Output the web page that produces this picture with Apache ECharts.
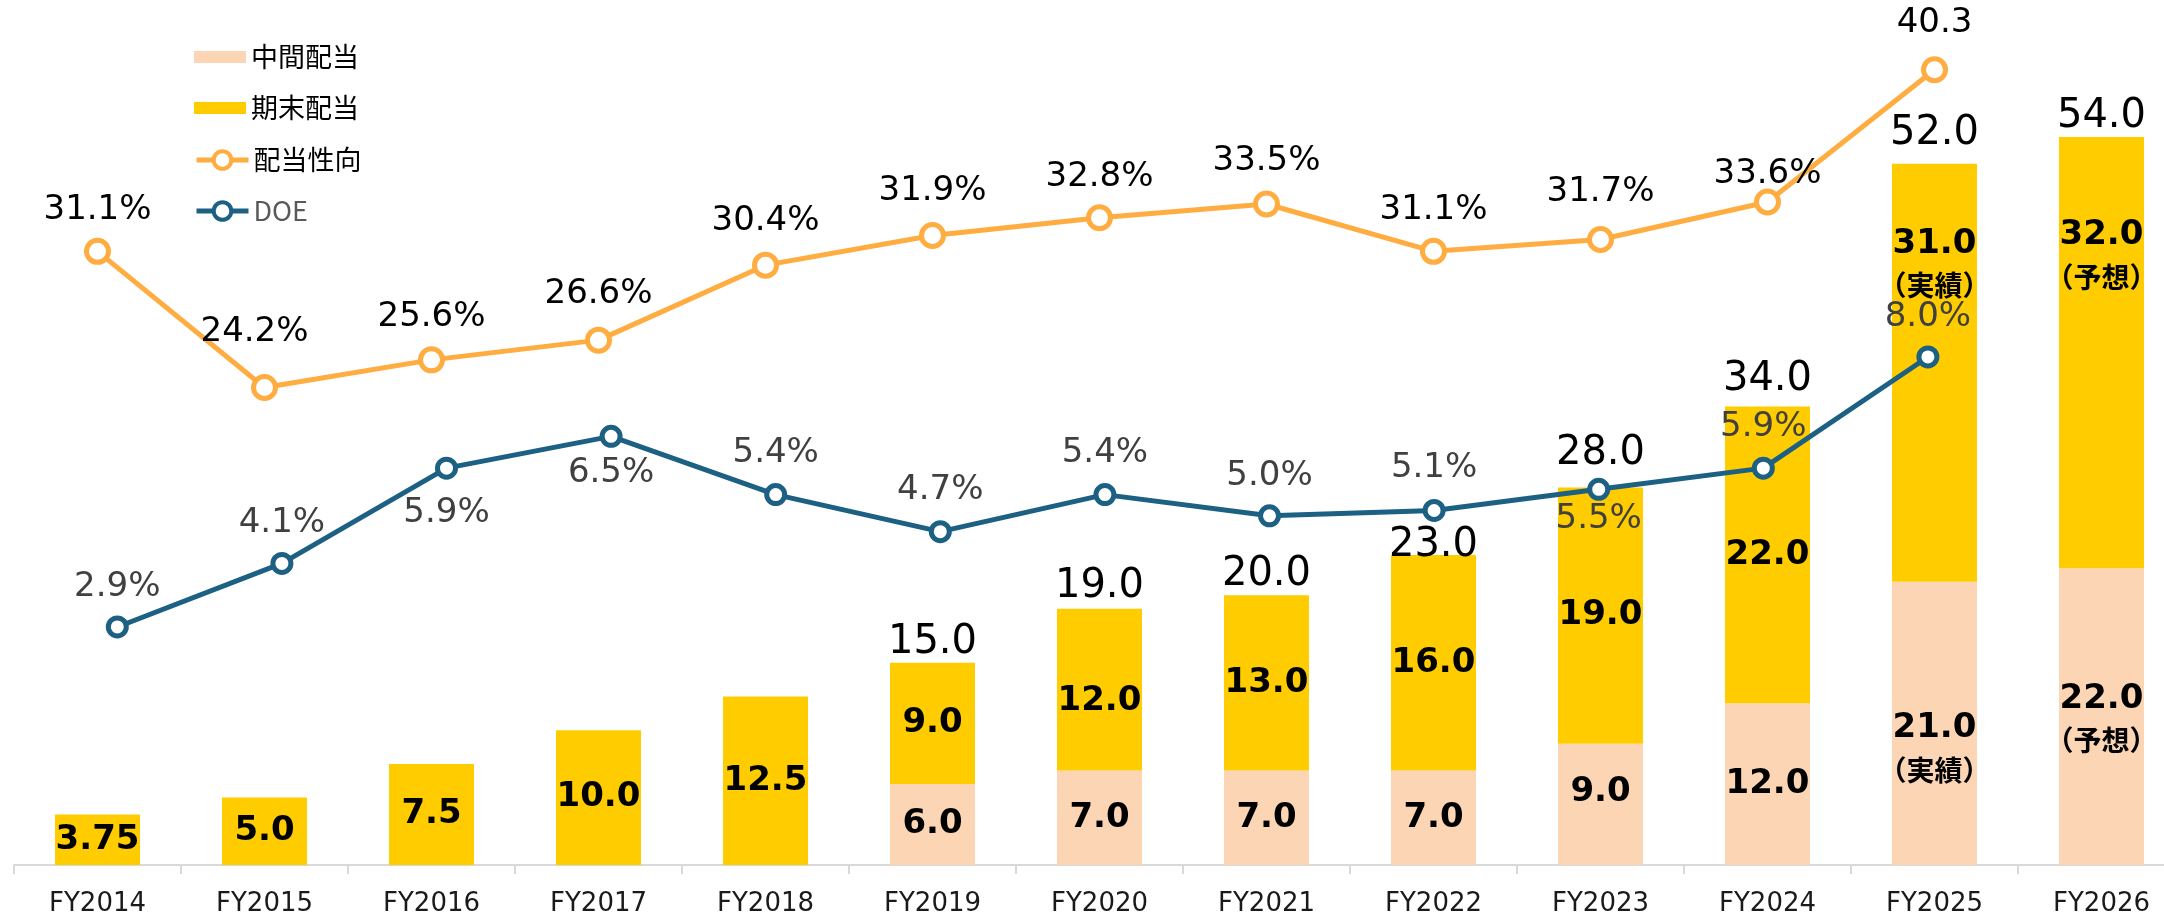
<!DOCTYPE html>
<html>
<head>
<meta charset="utf-8">
<script src="https://cdn.jsdelivr.net/npm/echarts@6/dist/echarts.min.js"></script>
<style>
  html, body { margin: 0; padding: 0; background: #ffffff; }
  #chart { width: 2164px; height: 916px; }
</style>
</head>
<body>
<div id="chart"></div>
<script>
// ---- data ----
const categories = ['FY2014', 'FY2015', 'FY2016', 'FY2017', 'FY2018', 'FY2019', 'FY2020',
  'FY2021', 'FY2022', 'FY2023', 'FY2024', 'FY2025', 'FY2026'];
const interimDividend = [null, null, null, null, null, 6.0, 7.0, 7.0, 7.0, 9.0, 12.0, 21.0, 22.0];
const yearEndDividend = [3.75, 5.0, 7.5, 10.0, 12.5, 9.0, 12.0, 13.0, 16.0, 19.0, 22.0, 31.0, 32.0];
const payoutRatio = [31.1, 24.2, 25.6, 26.6, 30.4, 31.9, 32.8, 33.5, 31.1, 31.7, 33.6, 40.3];
const doeRatio = [2.9, 4.1, 5.9, 6.5, 5.4, 4.7, 5.4, 5.0, 5.1, 5.5, 5.9, 8.0];
const dividendStatus = { FY2025: '実績', FY2026: '予想' };
const payoutNoPercent = ['FY2025'];

// ---- styling ----
const PEACH = '#FCD5B5';
const YELLOW = '#FFCC00';
const ORANGE = '#FFAC40';
const TEAL = '#1C6084';
const NUM_FONT = 'DejaVu Sans';
const JP_FONT = 'Noto Sans CJK JP';

// label nudges (pixels)
const yearEndLabelShift = { FY2020: 11, FY2025: -108, FY2026: -96 };
const interimLabelShift = { FY2023: -12, FY2025: 26, FY2026: 3 };
const totalLabelLift = { FY2019: 20, FY2020: 22, FY2021: 21, FY2022: 9, FY2023: 34, FY2024: 27, FY2025: 30, FY2026: 20 };
const payoutLabelLift = [41, 55, 43, 46, 44, 44, 41, 43, 41, 47, 28, 47];
const payoutLabelSide = { FY2015: -10 };
const doeLabelShift = [-40, -40, 45, 37, -41, -41, -41, -40, -42, 30, -41, -40];

const fmt = v => (Number.isInteger(Math.round(v * 1000) / 100) ? v.toFixed(1) : String(v));

const statusRich = {
  v: { fontFamily: NUM_FONT, fontSize: 34, fontWeight: 'bold', color: '#000', lineHeight: 42 },
  n: { fontFamily: JP_FONT, fontSize: 28, fontWeight: 'bold', color: '#000', lineHeight: 42 }
};

function segmentData(values, shifts) {
  return values.map((v, i) => {
    if (v == null) return null;
    const cat = categories[i];
    const item = { value: v, label: { offset: [0, shifts[cat] || 0] } };
    if (dividendStatus[cat]) {
      item.label.formatter = '{v|' + fmt(v) + '}\n{n|（' + dividendStatus[cat] + '）}';
      item.label.rich = statusRich;
    }
    return item;
  });
}

const totals = interimDividend.map((v, i) => (v == null ? null : v + yearEndDividend[i]));

const segmentLabel = {
  show: true,
  position: 'inside',
  fontFamily: NUM_FONT,
  fontSize: 34,
  fontWeight: 'bold',
  color: '#000',
  formatter: p => fmt(p.value)
};

const chart = echarts.init(document.getElementById('chart'), null, { renderer: 'canvas' });

chart.setOption({
  animation: false,
  backgroundColor: '#ffffff',
  legend: [
    {
      data: ['中間配当', '期末配当'],
      orient: 'vertical',
      left: 194,
      top: 42,
      padding: 0,
      itemWidth: 52,
      itemHeight: 12,
      itemGap: 21,
      icon: 'rect',
      selectedMode: false,
      textStyle: { fontFamily: JP_FONT, fontSize: 27, lineHeight: 30, color: '#000' }
    },
    {
      data: ['配当性向', { name: 'DOE', textStyle: { color: '#595959' } }],
      orient: 'vertical',
      left: 194,
      top: 145,
      padding: 0,
      itemWidth: 52,
      itemHeight: 22,
      itemGap: 21,
      selectedMode: false,
      itemStyle: { borderWidth: 4 },
      lineStyle: { width: 5 },
      textStyle: { fontFamily: JP_FONT, fontSize: 27, lineHeight: 30, color: '#000' }
    }
  ],
  grid: [
    { left: 14, width: 2171, top: 56, height: 809, outerBoundsMode: 'none' },
    { left: 35, width: 1975.2, top: 39.3, height: 741.2, outerBoundsMode: 'none' }
  ],
  xAxis: [
    {
      type: 'category',
      gridIndex: 0,
      data: categories,
      axisLine: { lineStyle: { color: '#D9D9D9', width: 2 } },
      axisTick: { show: true, alignWithLabel: false, length: 9, lineStyle: { color: '#D9D9D9', width: 2 } },
      axisLabel: { fontFamily: NUM_FONT, fontSize: 26, color: '#1a1a1a', margin: 26 }
    },
    {
      type: 'category',
      gridIndex: 1,
      data: categories.slice(0, doeRatio.length),
      show: false
    }
  ],
  yAxis: [
    { type: 'value', gridIndex: 0, min: 0, max: 60, show: false },
    { type: 'value', gridIndex: 0, min: 0, max: 41, show: false },
    { type: 'value', gridIndex: 1, min: 0, max: 14, show: false }
  ],
  series: [
    {
      name: '中間配当',
      type: 'bar',
      stack: 'dividend',
      barWidth: 85,
      itemStyle: { color: PEACH },
      label: segmentLabel,
      data: segmentData(interimDividend, interimLabelShift),
      z: 2
    },
    {
      name: '期末配当',
      type: 'bar',
      stack: 'dividend',
      barWidth: 85,
      itemStyle: { color: YELLOW },
      label: segmentLabel,
      data: segmentData(yearEndDividend, yearEndLabelShift),
      z: 2
    },
    {
      name: '年間配当',
      type: 'line',
      data: totals.map((v, i) => (v == null ? null : {
        value: v,
        label: { offset: [0, -(totalLabelLift[categories[i]] || 21)] }
      })),
      symbol: 'circle',
      symbolSize: 1,
      itemStyle: { color: 'rgba(0,0,0,0)' },
      lineStyle: { width: 0, color: 'rgba(0,0,0,0)' },
      silent: true,
      z: 6,
      label: {
        show: true,
        position: 'inside',
        fontFamily: NUM_FONT,
        fontSize: 40,
        color: '#000',
        formatter: p => fmt(p.value)
      }
    },
    {
      name: '配当性向',
      type: 'line',
      xAxisIndex: 0,
      yAxisIndex: 1,
      data: payoutRatio.map((v, i) => ({
        value: v,
        label: {
          offset: [payoutLabelSide[categories[i]] || 0, -payoutLabelLift[i]],
          formatter: payoutNoPercent.includes(categories[i]) ? fmt(v) : fmt(v) + '%'
        }
      })),
      symbol: 'circle',
      symbolSize: 22,
      itemStyle: { color: '#ffffff', borderColor: ORANGE, borderWidth: 5 },
      lineStyle: { color: ORANGE, width: 5 },
      z: 4,
      label: {
        show: true,
        position: 'inside',
        fontFamily: NUM_FONT,
        fontSize: 34,
        color: '#000'
      }
    },
    {
      name: 'DOE',
      type: 'line',
      xAxisIndex: 1,
      yAxisIndex: 2,
      data: doeRatio.map((v, i) => ({
        value: v,
        label: { offset: [0, doeLabelShift[i]] }
      })),
      symbol: 'circle',
      symbolSize: 18,
      itemStyle: { color: '#ffffff', borderColor: TEAL, borderWidth: 5 },
      lineStyle: { color: TEAL, width: 5 },
      z: 4,
      label: {
        show: true,
        position: 'inside',
        fontFamily: NUM_FONT,
        fontSize: 34,
        color: '#404040',
        formatter: p => fmt(p.value) + '%'
      }
    }
  ]
});
</script>
</body>
</html>
